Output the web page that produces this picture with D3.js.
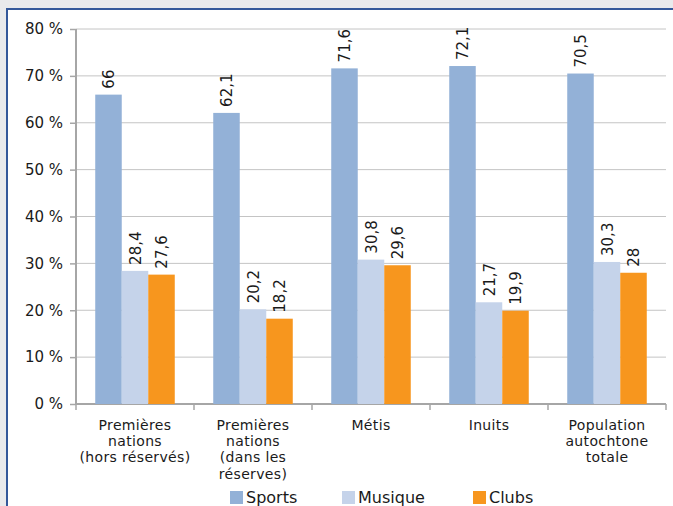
<!DOCTYPE html>
<html><head><meta charset="utf-8">
<script src="https://cdn.jsdelivr.net/npm/d3@7/dist/d3.min.js"></script>
<style>
html,body{margin:0;padding:0;background:#e9eaec;}
svg{display:block;}
text{font-family:"DejaVu Sans", sans-serif;fill:#1a1a1a;}
</style></head>
<body>
<svg id="c" width="673" height="506"></svg>
<script>
const categories = [["Premières","nations","(hors réservés)"],["Premières","nations","(dans les","réserves)"],["Métis"],["Inuits"],["Population","autochtone","totale"]];
const seriesNames = ["Sports","Musique","Clubs"];
const sports = [66, 62.1, 71.6, 72.1, 70.5];
const musique = [28.4, 20.2, 30.8, 21.7, 30.3];
const clubs = [27.6, 18.2, 29.6, 19.9, 28];
const yTicks = [0,10,20,30,40,50,60,70,80];
const colors = ["#93b1d7","#c5d3ea","#f7961e"];
const FONT = "'DejaVu Sans', sans-serif";

const svg = d3.select("#c");
// panel
svg.append("rect").attr("x",7).attr("y",9).attr("width",680).attr("height",510)
  .attr("fill","#fff").attr("stroke","#34589a").attr("stroke-width",2);

const pL=76,pR=666,pT=29,pB=404;
const y = d3.scaleLinear().domain([0,80]).range([pB,pT]);
const idx = d3.range(categories.length);
const x0 = d3.scaleBand().domain(idx).range([pL,pR]).paddingInner(0.326).paddingOuter(0.163);
const x1 = d3.scaleBand().domain(d3.range(3)).range([0,x0.bandwidth()]);
const series=[sports,musique,clubs];

// grid
svg.append("g").selectAll("line").data(yTicks.filter(d=>d>0)).join("line")
  .attr("x1",pL).attr("x2",pR).attr("y1",d=>y(d)).attr("y2",d=>y(d))
  .attr("stroke","#c4c4c4").attr("stroke-width",1);

// y axis
const ya = svg.append("g").attr("transform",`translate(${pL},0)`)
  .call(d3.axisLeft(y).tickValues(yTicks).tickSize(6).tickPadding(7).tickFormat(d=>d+" %"));
ya.select(".domain").attr("stroke","#a6a6a6").attr("stroke-width",2).attr("d",`M0,${pT}V${pB}`);
ya.selectAll(".tick line").attr("stroke","#a6a6a6").attr("stroke-width",1.5);
ya.selectAll(".tick text").attr("font-size",15).attr("fill","#1a1a1a").style("font-family",FONT);

// x axis
const xa = svg.append("g").attr("transform",`translate(0,${pB})`);
xa.append("line").attr("x1",pL).attr("x2",pR).attr("stroke","#a6a6a6").attr("stroke-width",2);
const bounds = idx.map(i=>x0(i)-x0.step()*0.163).concat([pR]);
xa.selectAll("line.t").data(bounds).join("line").attr("class","t")
  .attr("x1",d=>d).attr("x2",d=>d).attr("y1",0).attr("y2",6).attr("stroke","#a6a6a6").attr("stroke-width",1.5);

// bars
series.forEach((s,si)=>{
  const g=svg.append("g");
  g.selectAll("rect").data(s).join("rect")
    .attr("x",(d,i)=>x0(i)+x1(si)).attr("width",x1.bandwidth())
    .attr("y",d=>y(d)).attr("height",d=>pB-y(d)).attr("fill",colors[si]);
  g.selectAll("text").data(s).join("text")
    .attr("transform",(d,i)=>`translate(${x0(i)+x1(si)+x1.bandwidth()/2+5.5},${y(d)-6}) rotate(-90)`)
    .attr("font-size",15).text(d=>String(d).replace(".",","));
});

// category labels
categories.forEach((lines,i)=>{
  lines.forEach((l,k)=>svg.append("text").attr("text-anchor","middle").attr("font-size",14)
    .attr("letter-spacing",0.35)
    .attr("x",x0(i)+x0.bandwidth()/2).attr("y",429.5+k*16.4).text(l));
});

// legend
const legX=[230,342,473];
seriesNames.forEach((n,i)=>{
  svg.append("rect").attr("x",legX[i]).attr("y",491).attr("width",13).attr("height",13).attr("fill",colors[i]);
  svg.append("text").attr("x",legX[i]+16).attr("y",503).attr("font-size",16).text(n);
});
</script>
</body></html>
